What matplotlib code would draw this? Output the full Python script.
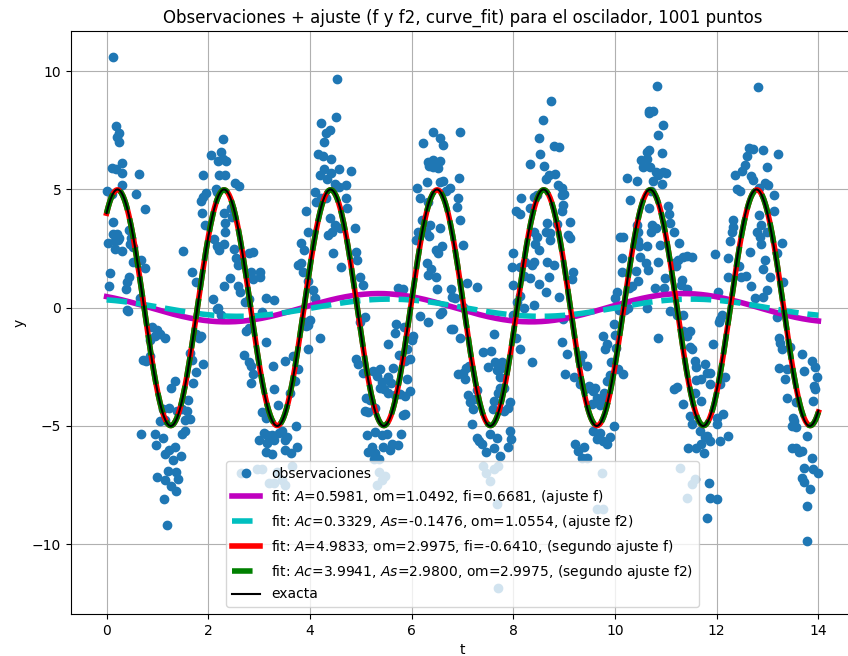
import numpy as np
import matplotlib
matplotlib.use("Agg")
import matplotlib.pyplot as plt


# fitted parameters
P_F1 = [0.5981, 1.0492, 0.6681]        # A, om, fi
P_F2 = [0.3329, -0.1476, 1.0554]       # Ac, As, om
P_F1B = [4.9833, 2.9975, -0.6410]      # A, om, fi
P_F2B = [3.9941, 2.9800, 2.9975]       # Ac, As, om
P_EXACT = [4.0, 3.0, 3.0]              # Ac, As, om

T_MIN, T_MAX, N_CURVE = 0.0, 14.0, 1001

obs = [
    (0.12, 10.6), (0.19, 7.67), (0.24, 7.4), (0.20, 7.2), (0.25, 7.0), (0.31, 6.1), (0.10, 5.9),
    (0.18, 5.85), (0.31, 5.7), (0.64, 5.65), (0.0, 4.95), (0.30, 5.2), (0.58, 4.8), (0.75, 4.17),
    (0.10, 4.8), (0.12, 3.64), (0.13, 3.1), (0.20, 3.1), (0.25, 2.95), (0.22, 2.85), (0.17, 2.8),
    (0.45, 3.3), (0.48, 2.95), (0.47, 2.7), (0.52, 2.55), (0.02, 2.75), (0.17, 2.5), (0.30, 2.4),
    (0.68, 2.0), (0.75, 1.67), (0.52, 1.95), (0.07, 1.45), (0.04, 0.93), (0.40, 1.1), (0.45, 1.3),
    (0.38, 0.8), (0.65, 0.4), (0.40, -0.1), (0.42, -0.13),
    # first trough
    (0.9, -0.8), (1.0, -0.95), (1.05, -1.1), (1.15, -1.3), (0.95, -1.2), (0.85, -1.35), (0.72, -2.2),
    (0.78, -2.25), (0.86, -2.05), (1.27, -3.4), (1.34, -3.1), (1.1, -4.3), (1.22, -4.25), (1.38, -4.35),
    (1.48, -4.3), (1.58, -4.35), (1.6, -3.9), (1.05, -4.8), (1.15, -4.75), (1.55, -4.75), (1.65, -4.7),
    (0.67, -5.35), (0.95, -5.35), (0.98, -5.8), (1.1, -5.5), (1.22, -6.0), (1.35, -5.9), (1.48, -5.35),
    (1.55, -5.2), (1.47, -6.25), (1.14, -6.2), (1.3, -6.45), (1.2, -6.9), (1.36, -6.95), (1.0, -7.15),
    (1.14, -7.3), (1.27, -7.55), (1.4, -7.25), (1.37, -7.75), (1.13, -8.1), (1.19, -9.17),
    (1.76, -1.1), (1.82, -1.3), (1.85, -1.2), (1.64, -1.9), (1.67, -2.2), (1.89, -2.4), (1.75, -2.7),
    (1.7, -3.2), (2.2, 0.0), (2.25, -0.3), (1.5, 2.4), (1.67, 1.5), (1.76, 1.1), (2.09, 0.35), (2.18, -0.05),
    (2.75, -1.0), (2.8, -0.85), (2.7, -2.0), (2.8, -2.3), (2.85, -2.45), (2.88, -2.8), (2.85, -3.2),
    (3.05, -4.4), (3.15, -4.6), (3.0, -5.6), (3.15, -5.4), (2.65, -7.0), (2.95, -6.8), (3.05, -6.8),
    # second crest
    (1.9, 5.6), (2.06, 6.45), (2.29, 7.13), (2.25, 6.6), (2.2, 6.2), (2.28, 6.3), (2.35, 6.2), (2.22, 5.6),
    (2.32, 5.6), (1.86, 4.5), (1.9, 4.7), (1.96, 4.85), (2.15, 5.0), (2.17, 4.9), (2.52, 5.26), (2.6, 5.15),
    (1.88, 4.0), (1.93, 3.5), (2.3, 4.0), (2.32, 3.6), (2.33, 3.2), (2.45, 4.2), (2.47, 3.85), (2.12, 2.9),
    (2.17, 2.6), (2.3, 2.7), (2.22, 2.45), (2.5, 2.5), (2.55, 2.1), (2.58, 1.8), (2.8, 2.3), (2.88, 2.35),
    (2.42, 1.24), (2.58, 0.9), (2.62, 0.65), (2.85, 1.5), (2.88, 1.2), (2.73, 0.25), (2.8, 0.35), (2.3, 0.9),
    # second trough
    (3.01, 1.5), (3.01, 1.3), (3.14, 0.4), (3.29, 0.33), (3.05, -0.2), (3.14, -1.47), (3.27, -2.46),
    (3.3, -3.45), (3.37, -4.1), (3.14, -4.65), (3.5, -2.25), (3.67, -2.03), (3.77, -2.6), (3.7, -3.1),
    (3.6, -3.6), (3.73, -5.0), (3.1, -5.3), (3.15, -5.7), (3.2, -5.5), (3.25, -5.4), (3.3, -5.6),
    (3.4, -5.3), (3.45, -5.2), (3.5, -5.6), (3.55, -5.45), (3.5, -6.0), (3.75, -5.9), (3.62, -6.15),
    (3.25, -6.2), (3.14, -6.1), (3.36, -6.95), (3.45, -7.3), (3.5, -7.5), (3.3, -7.4), (3.2, -7.4),
    (3.65, -6.7), (4.0, -0.5), (3.93, -0.76), (4.19, -1.26), (3.96, -1.75), (3.9, -0.6), (3.97, -0.75),
    # third crest
    (4.54, 9.69), (4.52, 8.05), (4.21, 7.8), (4.39, 7.5), (4.31, 7.4), (4.28, 7.0), (4.16, 6.5),
    (4.25, 6.4), (4.41, 6.3), (4.28, 5.85), (4.57, 5.85), (4.8, 5.8), (4.2, 5.6), (4.33, 5.45),
    (4.41, 5.7), (4.5, 5.25), (4.7, 5.2), (4.57, 5.1), (4.1, 4.9), (4.12, 4.45), (4.22, 4.65),
    (4.31, 4.65), (4.7, 4.65), (4.73, 4.2), (3.93, 4.07), (4.39, 3.78), (4.49, 3.5), (4.59, 3.36),
    (4.43, 3.2), (4.36, 3.08), (4.88, 3.36), (4.91, 2.37), (4.93, 2.0), (4.45, 2.3), (4.62, 1.74),
    (4.98, 1.31), (5.05, 0.96), (3.96, 3.2), (3.83, 2.72), (3.89, 2.45), (3.77, 1.8), (3.82, 1.9),
    (3.87, 1.5), (3.96, 1.15), (4.06, 0.75), (4.09, 0.4),
    # third trough
    (5.08, -0.4), (4.98, -0.6), (4.91, -2.18), (4.95, -2.4), (5.05, -2.74), (5.24, -2.67), (5.37, -2.6),
    (5.31, -2.9), (5.41, -3.16), (5.37, -3.4), (5.45, -3.45), (5.11, -3.8), (5.18, -3.9), (5.08, -4.36),
    (5.14, -4.4), (5.28, -4.22), (5.64, -2.53), (5.54, -2.95), (5.6, -3.2), (5.54, -3.59), (5.67, -3.7),
    (5.77, -3.66), (5.12, -5.4), (5.28, -5.25), (5.41, -5.4), (5.51, -5.35), (5.61, -5.75), (5.74, -5.8),
    (5.8, -5.35), (5.57, -6.0), (5.44, -5.9), (5.22, -5.9), (5.28, -6.15), (5.35, -6.4), (5.25, -6.4),
    (5.15, -6.1), (5.35, -6.95), (5.48, -7.1), (5.42, -7.3), (5.32, -7.5), (5.7, -0.7), (5.67, -1.05),
    (5.85, -0.8), (6.16, -0.34), (6.03, -1.19), (6.0, -1.35), (5.54, -1.54), (5.9, -1.75), (5.96, -2.18),
    (5.75, -2.0), (5.87, -2.25), (5.9, -3.02), (5.96, -3.52), (5.87, -3.75), (5.87, -4.5), (5.82, -4.55),
    # fourth crest
    (5.73, 0.83), (5.8, 0.75), (5.83, 0.8), (6.23, 6.96), (6.42, 7.45), (6.55, 7.17), (6.62, 6.9),
    (6.32, 6.15), (6.42, 6.25), (6.48, 6.1), (6.55, 6.2), (6.52, 5.9), (6.42, 5.95), (6.35, 6.0),
    (6.95, 7.45), (6.93, 5.48), (6.1, 5.05), (6.17, 4.65), (6.3, 5.3), (6.33, 4.45), (6.55, 5.3),
    (6.62, 5.35), (6.68, 4.95), (6.75, 5.05), (6.2, 3.7), (6.13, 3.2), (6.08, 2.85), (6.28, 3.2),
    (6.35, 3.05), (6.37, 3.5), (6.55, 3.35), (6.6, 2.6), (6.47, 2.45), (6.52, 2.3), (6.3, 1.9),
    (6.33, 1.4), (6.38, 1.65), (6.47, 1.3), (6.5, 0.8), (6.78, 0.8), (6.8, 0.45), (6.6, -0.2),
    (6.33, -0.6), (6.92, 4.63), (6.9, 4.25), (6.95, 3.7), (7.01, 2.65), (7.08, 1.03), (7.28, 0.89),
    (6.85, 0.4), (7.0, 0.05),
    # fourth trough
    (6.56, -0.27), (6.78, -0.9), (6.92, -2.8), (6.82, -0.9), (6.95, -1.26), (7.01, -2.74), (7.06, -2.55),
    (7.12, -2.45), (7.04, -3.0), (7.1, -3.7), (7.15, -4.0), (7.2, -4.3), (7.25, -3.85), (7.28, -3.5),
    (7.18, -4.9), (7.28, -5.5), (7.38, -5.75), (7.33, -5.65), (7.47, -6.1), (7.41, -1.89), (7.56, -1.85),
    (7.61, -1.11), (7.64, -2.31), (7.5, -2.5), (7.68, -2.65), (7.74, -2.95), (7.75, -2.55), (7.78, -2.3),
    (7.74, -3.4), (7.7, -3.59), (7.82, -3.4), (7.93, -4.0), (7.9, -4.25), (7.82, -4.35), (7.61, -3.94),
    (7.6, -4.3), (7.54, -5.35), (7.67, -5.5), (7.61, -5.95), (7.74, -6.27), (7.93, -5.21), (7.9, -5.9),
    (7.95, -5.55), (8.06, -1.26), (8.13, -1.75), (8.36, -2.31), (8.0, -0.3), (8.2, 0.0),
    (7.41, -6.7), (7.47, -7.0), (7.61, -6.8), (7.7, -6.7), (7.54, -7.33), (7.67, -8.3), (7.7, -11.85),
    # fifth crest
    (8.75, 8.73), (8.59, 7.95), (8.51, 7.18), (8.79, 6.82), (8.89, 6.8), (8.52, 6.5), (8.33, 6.07),
    (8.6, 6.0), (8.7, 5.6), (8.82, 5.65), (8.65, 5.45), (8.88, 5.2), (8.95, 5.05), (9.0, 4.8),
    (8.16, 4.63), (8.33, 4.2), (8.06, 4.07), (8.13, 3.95), (8.4, 4.7), (8.47, 4.75), (8.95, 4.75),
    (8.98, 4.35), (8.95, 4.1), (9.11, 3.64), (9.08, 3.08), (9.11, 2.95), (8.67, 3.6), (8.64, 3.2),
    (8.73, 3.15), (8.86, 3.55), (8.4, 3.2), (8.47, 3.0), (8.43, 2.7), (8.5, 2.45), (8.73, 2.85),
    (8.0, 2.3), (7.97, 1.74), (8.14, 1.74), (8.23, 1.95), (8.33, 1.24), (8.2, 1.35), (8.37, 1.8),
    (8.4, 1.95), (8.67, 1.95), (8.8, 1.8), (9.18, 1.52), (9.16, 1.2), (8.71, 1.3), (8.0, 0.95),
    (8.14, 0.5), (8.07, 0.25), (8.5, 1.0), (8.65, 0.65), (8.89, 0.45), (8.4, 0.1),
    # fifth trough
    (8.98, -0.48), (8.95, -1.47), (9.05, -1.96), (9.02, -2.81), (9.2, -2.95), (9.31, -2.25), (9.36, -2.0),
    (9.44, -2.46), (9.31, -3.23), (9.4, -3.45), (9.49, -3.3), (9.57, -3.52), (9.6, -3.4), (9.64, -3.8),
    (9.55, -4.05), (9.71, -4.1), (9.77, -3.94), (9.79, -3.6), (9.84, -3.09), (9.57, -5.21), (9.64, -5.55),
    (9.71, -5.3), (9.77, -5.65), (9.84, -5.78), (9.9, -5.45), (9.97, -5.0), (9.21, -5.78), (9.28, -6.05),
    (9.38, -5.9), (9.44, -6.34), (9.36, -6.35), (9.97, -0.7), (9.77, -1.19), (9.84, -1.55), (9.8, -1.75),
    (10.0, -1.15), (10.02, -1.7), (9.93, -2.31), (9.91, -2.85), (10.16, -2.81), (10.05, -2.6),
    (10.2, -0.1), (10.25, 0.0), (9.74, -6.98), (9.64, -8.53), (9.77, -8.53),
    # sixth crest
    (10.1, 3.0), (10.15, 3.0), (10.13, 2.1), (10.13, 1.52), (10.03, 0.68), (10.27, 0.85), (10.33, 0.9),
    (9.99, 0.4), (10.08, -0.1), (10.23, 5.48), (10.29, 4.56), (10.52, 6.25), (10.55, 5.95), (10.62, 6.6),
    (10.66, 8.23), (10.43, 5.34), (10.43, 3.5), (10.46, 3.2), (10.45, 2.8), (10.48, 2.6), (10.5, 2.15),
    (10.42, 1.55), (10.45, 1.15), (10.83, 9.39), (10.66, 8.3), (10.74, 8.33), (10.95, 7.71), (10.85, 7.32),
    (10.66, 6.67), (10.92, 6.54), (10.63, 6.3), (10.68, 5.95), (10.8, 5.75), (10.85, 5.6), (10.95, 5.75),
    (11.0, 5.7), (10.92, 5.25), (10.75, 5.35), (10.7, 4.95), (10.67, 4.2), (10.73, 3.5), (10.7, 3.2),
    (10.8, 3.35), (11.05, 4.28), (11.07, 3.95), (11.08, 3.6), (11.15, 3.22), (11.25, 2.72), (10.63, 2.6),
    (10.6, 1.9), (10.65, 1.6), (10.89, 2.65), (10.85, 1.95), (10.98, 1.24), (10.97, 0.82), (11.15, 1.9),
    (11.2, 1.75), (11.24, 2.0), (11.33, 2.15), (11.42, 2.2), (11.51, 2.16), (11.31, 1.17), (11.29, 0.95),
    (11.42, 0.8), (10.78, 0.85),
    # sixth trough
    (10.62, 0.0), (10.85, -1.26), (11.08, -0.13), (11.21, -0.3), (11.34, -0.3), (11.34, -0.97),
    (11.42, -1.2), (11.48, -0.97), (11.48, -1.68), (11.51, -1.75), (11.57, -2.25), (11.6, -2.5),
    (11.77, -2.39), (11.8, -2.75), (11.87, -2.74), (11.7, -3.02), (11.6, -3.05), (11.21, -3.37),
    (11.15, -3.44), (11.34, -4.08), (11.48, -4.58), (11.51, -4.93), (11.7, -3.94), (11.58, -3.6),
    (11.93, -1.54), (12.07, -0.48), (12.05, -0.6), (12.1, -0.3), (12.17, -2.95), (12.07, -3.23),
    (11.87, -3.23), (12.13, -4.5), (12.0, -4.68), (12.0, -4.93), (11.67, -5.21), (11.77, -5.48),
    (11.8, -5.42), (11.87, -5.64), (12.07, -5.64), (12.23, -5.42), (11.7, -5.78), (11.6, -5.92),
    (11.44, -5.92), (11.74, -6.13), (11.84, -7.4), (11.87, -8.03), (12.0, -8.1), (11.8, -8.88),
    (11.28, -6.77), (11.51, -7.47), (11.58, -7.25), (11.41, -8.03),
    # seventh crest
    (11.97, 2.26), (12.03, 0.68), (12.76, 0.42), (12.82, 9.33), (12.64, 6.75), (12.72, 6.7), (12.92, 6.67),
    (12.59, 6.4), (12.55, 6.05), (12.5, 5.8), (12.36, 5.6), (12.99, 5.93), (13.2, 6.5), (12.72, 5.4),
    (12.67, 5.55), (12.39, 5.0), (12.45, 4.95), (12.95, 5.27), (13.0, 5.2), (13.12, 4.77), (12.83, 5.05),
    (12.33, 3.72), (12.33, 3.4), (12.26, 2.8), (12.3, 3.2), (12.83, 3.9), (12.87, 3.5), (12.99, 3.22),
    (13.12, 4.07), (12.79, 3.2), (12.85, 3.0), (12.88, 2.7), (12.23, 2.09), (12.23, 1.31), (12.43, 1.75),
    (12.47, 1.3), (12.57, 1.35), (12.66, 2.37), (12.92, 1.65), (12.95, 2.0), (13.05, 1.3), (13.28, 2.72),
    (13.18, 2.3), (13.31, 1.1), (12.99, 0.75), (12.92, 0.45), (12.67, 0.9),
    # last trough
    (13.18, -0.41), (13.22, -1.26), (13.25, -1.5), (13.28, -1.75), (13.44, -1.68), (13.22, -2.53),
    (13.38, -2.6), (13.35, -3.02), (13.67, -1.96), (13.71, -2.67), (13.87, -2.25), (13.94, -2.5),
    (13.97, -2.95), (13.92, -3.3), (13.94, -3.45), (13.38, -3.8), (13.55, -4.0), (13.9, -3.94),
    (13.51, -4.65), (13.48, -5.0), (13.55, -5.05), (13.52, -4.8), (13.77, -5.42), (13.48, -5.92),
    (13.55, -5.95), (13.62, -6.1), (13.67, -6.06), (13.87, -6.34), (13.9, -6.84), (14.0, -6.98),
    (13.71, -6.77), (13.67, -7.19), (13.71, -7.35), (13.84, -7.68), (13.77, -8.39), (13.77, -9.87),
]
t_obs = np.array([p[0] for p in obs])
y_obs = np.array([p[1] for p in obs])


def f(t, A, om, fi):
    return A * np.cos(om * t + fi)


def f2(t, Ac, As, om):
    return Ac * np.cos(om * t) + As * np.sin(om * t)


t = np.linspace(T_MIN, T_MAX, N_CURVE)

fig = plt.figure(figsize=(8.48, 6.56), dpi=100)
ax = fig.add_axes([71 / 848, 42 / 656, 783 / 848, 583 / 656])

ax.plot(t_obs, y_obs, 'o', label='observaciones')
ax.plot(t, f(t, *P_F1), 'm-', lw=4,
        label=r'fit: $A$=%5.4f, om=%5.4f, fi=%5.4f, (ajuste f)' % tuple(P_F1))
ax.plot(t, f2(t, *P_F2), 'c--', lw=4,
        label=r'fit: $Ac$=%5.4f, $As$=%5.4f, om=%5.4f, (ajuste f2)' % tuple(P_F2))
ax.plot(t, f(t, *P_F1B), 'r-', lw=4,
        label=r'fit: $A$=%5.4f, om=%5.4f, fi=%5.4f, (segundo ajuste f)' % tuple(P_F1B))
ax.plot(t, f2(t, *P_F2B), 'g--', lw=4,
        label=r'fit: $Ac$=%5.4f, $As$=%5.4f, om=%5.4f, (segundo ajuste f2)' % tuple(P_F2B))
ax.plot(t, f2(t, *P_EXACT), 'k-', lw=1.5, label='exacta')

ax.set_xlim(-0.7, 14.7)
ax.set_ylim(-12.95, 11.7)
ax.set_xlabel('t')
ax.set_ylabel('y')
ax.set_title('Observaciones + ajuste (f y f2, curve_fit) para el oscilador, %d puntos' % N_CURVE)
ax.grid(True)
ax.legend(loc='lower center')

fig.savefig('out.png', dpi=100)
